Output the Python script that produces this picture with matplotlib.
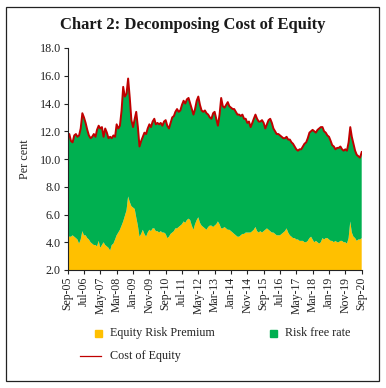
import matplotlib
matplotlib.use("Agg")
import matplotlib.pyplot as plt
from matplotlib.patches import Rectangle
from matplotlib.lines import Line2D
import pandas as pd

dates = pd.date_range("2005-09-01", "2020-09-01", freq="MS")

cost_of_equity = [
    11.6, 11.8, 11.3, 11.2, 11.7, 11.8, 11.6, 11.7, 12.2, 13.3,
    13.0, 12.6, 12.1, 11.7, 11.5, 11.6, 11.8, 11.6, 12.1, 12.4,
    12.2, 12.3, 11.6, 12.2, 11.9, 11.5, 11.6, 11.5, 11.7, 11.6,
    12.5, 12.2, 12.4, 13.5, 15.2, 14.5, 14.7, 15.8, 14.4, 12.8,
    12.3, 12.9, 13.4, 12.3, 10.9, 11.3, 11.6, 11.9, 11.8, 12.2,
    12.5, 12.3, 12.7, 12.9, 12.5, 12.6, 12.5, 12.6, 12.4, 12.7,
    12.8, 12.4, 12.2, 12.6, 13.0, 13.1, 13.4, 13.6, 13.4, 13.5,
    13.9, 14.2, 14.0, 14.3, 14.4, 14.0, 13.6, 13.2, 13.6, 14.2,
    14.5, 13.9, 13.5, 13.4, 13.5, 13.3, 13.2, 13.0, 12.9, 13.3,
    13.4, 12.9, 12.4, 13.2, 14.4, 13.8, 13.7, 13.9, 14.1, 13.8,
    13.7, 13.6, 13.6, 13.4, 13.2, 13.2, 13.1, 13.2, 12.9, 12.9,
    12.6, 12.7, 12.3, 12.6, 12.9, 13.2, 12.9, 12.7, 12.7, 12.8,
    12.6, 12.2, 12.5, 12.8, 12.9, 12.6, 12.2, 12.0, 11.8, 11.8,
    11.7, 11.6, 11.5, 11.5, 11.6, 11.4, 11.4, 11.2, 11.1, 10.9,
    10.7, 10.6, 10.7, 10.7, 10.9, 11.1, 11.2, 11.5, 11.9, 12.0,
    12.1, 12.0, 11.9, 12.1, 12.2, 12.3, 12.3, 12.0, 11.9, 11.7,
    11.6, 11.3, 11.0, 10.9, 10.7, 10.8, 10.8, 10.9, 10.7, 10.6,
    10.7, 10.6, 11.2, 12.3, 11.6, 11.1, 10.6, 10.3, 10.2, 10.1,
    10.5,
]

equity_risk_premium = [
    4.5, 4.4, 4.4, 4.5, 4.4, 4.3, 4.2, 3.9, 4.2, 4.8,
    4.5, 4.5, 4.3, 4.2, 4.0, 3.9, 3.8, 3.8, 3.7, 4.1,
    3.6, 3.8, 4.0, 3.8, 3.7, 3.6, 3.4, 3.8, 3.9, 4.2,
    4.5, 4.7, 4.9, 5.2, 5.5, 5.9, 6.3, 7.3, 6.9, 6.6,
    6.5, 6.4, 5.8, 5.2, 4.4, 4.6, 4.9, 4.6, 4.4, 4.7,
    4.9, 4.8, 5.0, 5.0, 4.8, 4.8, 4.7, 4.8, 4.7, 4.7,
    4.6, 4.3, 4.4, 4.6, 4.7, 4.8, 5.0, 5.0, 5.1, 5.2,
    5.3, 5.5, 5.4, 5.6, 5.7, 5.6, 5.2, 4.9, 5.3, 5.6,
    5.8, 5.4, 5.2, 5.1, 5.0, 4.9, 5.1, 5.2, 5.2, 5.1,
    5.2, 5.3, 5.5, 5.3, 5.0, 5.0, 5.1, 5.0, 4.9, 4.9,
    4.8, 4.7, 4.6, 4.5, 4.4, 4.4, 4.5, 4.6, 4.6, 4.7,
    4.7, 4.7, 4.7, 4.8, 4.9, 5.1, 4.8, 4.7, 4.8, 4.7,
    4.8, 4.9, 5.0, 4.9, 4.8, 4.7, 4.7, 4.6, 4.5, 4.5,
    4.5, 4.6, 4.7, 4.8, 5.0, 4.7, 4.5, 4.4, 4.3, 4.3,
    4.2, 4.2, 4.1, 4.1, 4.1, 4.0, 4.0, 4.1, 4.3, 4.4,
    4.2, 4.0, 4.1, 4.0, 3.9, 4.0, 4.3, 4.2, 4.3, 4.3,
    4.2, 4.1, 4.1, 4.0, 4.1, 4.0, 4.0, 4.1, 4.1, 4.0,
    4.0, 3.9, 4.3, 5.5, 4.7, 4.4, 4.3, 4.1, 4.2, 4.2,
    4.3,
]

risk_free_rate = [c - e for c, e in zip(cost_of_equity, equity_risk_premium)]

y_ticks = [2.0, 4.0, 6.0, 8.0, 10.0, 12.0, 14.0, 16.0, 18.0]

title = "Chart 2: Decomposing Cost of Equity"
labels = ["Equity Risk Premium", "Risk free rate", "Cost of Equity"]

C_ERP = "#FFC000"
C_RF = "#00B050"
C_COE = "#C00000"
TXT = "#222222"

plt.rcParams["font.family"] = ["Liberation Serif", "DejaVu Serif"]

W, H = 386, 388
fig = plt.figure(figsize=(W / 100, H / 100), dpi=100)
ax = fig.add_axes([67.7 / W, 1 - 270 / H, 294 / W, 222 / H])

ax.stackplot(dates, equity_risk_premium, risk_free_rate,
             colors=[C_ERP, C_RF], linewidth=0)
ax.plot(dates, cost_of_equity, color=C_COE, linewidth=1.4)

ax.set_xlim(dates[0], dates[-1])
ax.set_ylim(2.0, 18.0)
ax.set_yticks(y_ticks)
ax.set_yticklabels([f"{v:.1f}" for v in y_ticks], fontsize=8.7, color=TXT)
ax.set_xticks(dates[::10])
ax.set_xticklabels([d.strftime("%b-%y") for d in dates[::10]],
                   rotation=90, fontsize=8.5, color=TXT)
ax.tick_params(axis="both", direction="out", length=3, width=0.8,
               colors=TXT, pad=2)
ax.set_ylabel("Per cent", fontsize=8.7, labelpad=6, color=TXT)
for s in ["top", "right"]:
    ax.spines[s].set_visible(False)
for s in ["left", "bottom"]:
    ax.spines[s].set_linewidth(0.8)
    ax.spines[s].set_color(TXT)

fig.text(0.5, 1 - 25 / H, title, ha="center", va="center",
         fontsize=12, fontweight="bold", color="#1a1a1a")

# manual legend
def px(x, y):
    return x / W, 1 - y / H

sq = 7
for (cx, cy), col in [((98, 333), C_ERP), ((273, 333), C_RF)]:
    x0, y0 = px(cx - sq / 2, cy + sq / 2)
    fig.patches.append(Rectangle((x0, y0), sq / W, sq / H,
                                 transform=fig.transFigure, color=col))
fig.lines.append(Line2D([80 / W, 101 / W], [1 - 355.5 / H, 1 - 355.5 / H],
                        transform=fig.transFigure, color=C_COE, lw=0.9))
for (tx, ty), lab in [((110, 333), labels[0]), ((285, 333), labels[1]),
                      ((110, 355.5), labels[2])]:
    x, y = px(tx, ty)
    fig.text(x, y, lab, ha="left", va="center", fontsize=8.7, color=TXT)

fig.patches.append(Rectangle((6 / W, 1 - 381 / H), 373 / W, 374 / H,
                             transform=fig.transFigure, fill=False,
                             edgecolor=TXT, linewidth=0.9))

fig.savefig("out.png", dpi=100)
